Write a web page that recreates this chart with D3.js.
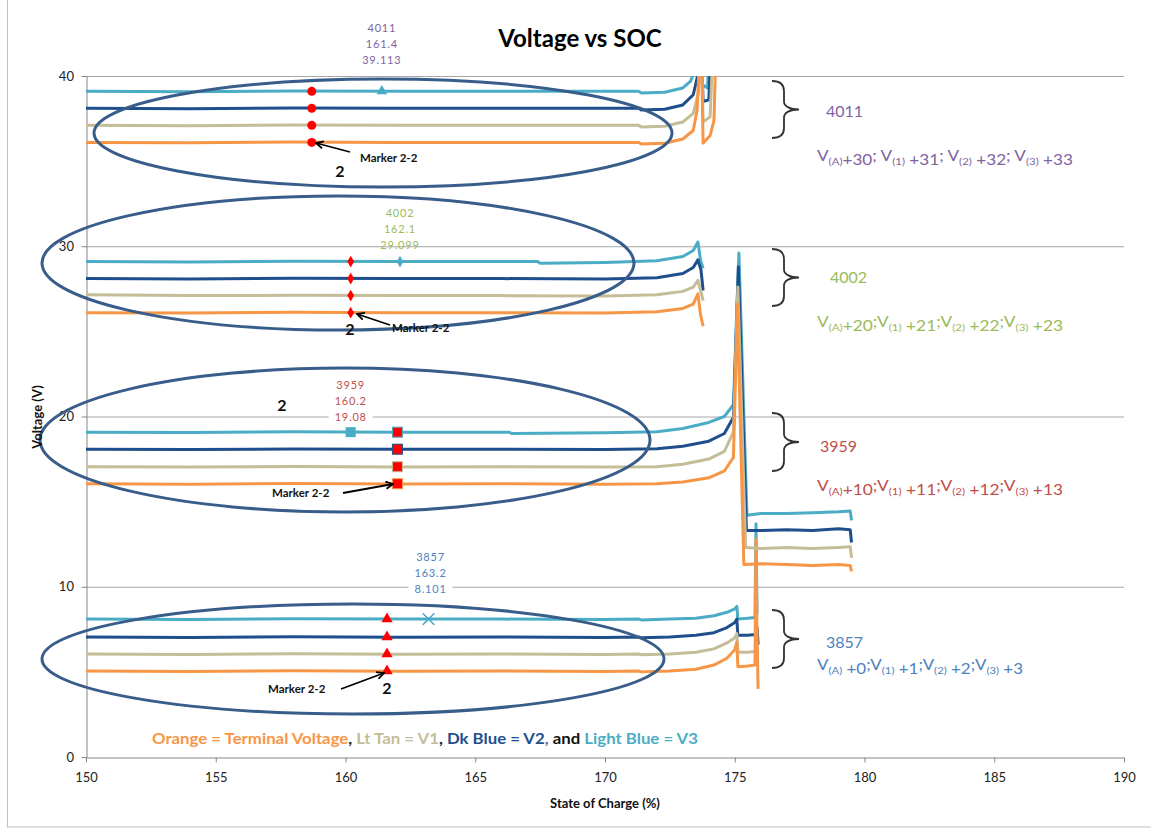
<!DOCTYPE html>
<html><head><meta charset="utf-8">
<script src="https://cdn.jsdelivr.net/npm/d3@7"></script>
<style>
body{margin:0;background:#fff;}
text{font-family:Lato,"Open Sans",sans-serif;}
</style>
</head><body>
<svg id="c" width="1151" height="833"></svg>
<script>
// ---------- axis ticks ----------
const xTicks = [150,155,160,165,170,175,180,185,190];
const yTicks = [0,10,20,30,40];

// ---------- series: [SOC %, Voltage V] ----------
// pack 3857 (offsets +0..+3)
const p3857_VA = [[150,5.05],[154,5.02],[158,5.06],[162,5.03],[166,5.05],[170,5.02],[171.3,5.05],[171.4,5.0],[172.5,5.05],[173.5,5.15],[174.2,5.4],[174.7,5.8],[175.0,6.3],[175.08,6.75],[175.12,5.3],[175.5,5.35],[175.78,5.4],[175.82,12.8],[175.85,8.0],[175.9,4.0]];
const p3857_V1 = [[150,6.05],[154,6.02],[158,6.06],[162,6.03],[166,6.05],[170,6.02],[171.3,6.05],[171.4,6.0],[172.5,6.05],[173.5,6.15],[174.2,6.35],[174.7,6.7],[175.0,7.0],[175.08,7.25],[175.12,6.15],[175.5,6.15],[175.8,6.2],[175.88,6.0]];
const p3857_V2 = [[150,7.05],[154,7.02],[158,7.06],[162,7.03],[166,7.05],[170,7.02],[171.3,7.05],[171.4,7.0],[172.5,7.05],[173.5,7.15],[174.2,7.3],[174.7,7.6],[175.0,7.9],[175.08,8.1],[175.12,7.15],[175.5,7.15],[175.8,7.2],[175.86,7.6],[175.9,6.6]];
const p3857_V3 = [[150,8.1],[154,8.08],[158,8.12],[162,8.1],[166,8.1],[170,8.08],[171.3,8.1],[171.4,8.05],[172.5,8.1],[173.5,8.15],[174.2,8.3],[174.7,8.5],[175.0,8.7],[175.08,8.85],[175.12,8.1],[175.5,8.15],[175.78,8.2],[175.82,13.7],[175.86,8.4]];
// pack 3959 (offsets +10..+13)
const p3959_VA = [[150,16.05],[154,16.02],[158,16.06],[162,16.03],[166,16.05],[170,16.02],[172,16.05],[173,16.15],[174,16.4],[174.6,16.8],[174.95,17.6],[175.1,26.6],[175.35,11.3],[176,11.35],[177,11.3],[178,11.25],[179,11.3],[179.45,11.25],[179.5,10.9]];
const p3959_V1 = [[150,17.05],[154,17.03],[158,17.06],[162,17.04],[166,17.05],[170,17.03],[172,17.05],[173,17.2],[174,17.5],[174.6,17.95],[174.95,19.1],[175.12,27.6],[175.42,12.3],[176,12.25],[177,12.3],[178,12.25],[179,12.3],[179.45,12.35],[179.5,11.7]];
const p3959_V2 = [[150,18.08],[154,18.06],[158,18.09],[162,18.07],[166,18.08],[170,18.06],[172,18.1],[173,18.25],[174,18.55],[174.6,19.0],[174.95,19.95],[175.14,28.8],[175.45,13.3],[176,13.3],[177,13.35],[178,13.3],[179,13.4],[179.45,13.35],[179.5,12.6]];
const p3959_V3 = [[150,19.08],[154,19.06],[158,19.1],[162,19.08],[166.3,19.08],[166.4,19.0],[170,19.05],[172,19.1],[173,19.3],[174,19.65],[174.6,20.0],[174.95,20.7],[175.16,29.6],[175.47,14.2],[176,14.3],[177,14.3],[178,14.35],[179,14.4],[179.45,14.45],[179.5,13.9]];
// pack 4002 (offsets +20..+23)
const p4002_VA = [[150,26.1],[154,26.08],[158,26.12],[162,26.1],[166,26.1],[170,26.08],[172,26.15],[173,26.35],[173.4,26.6],[173.58,27.2],[173.68,26.0],[173.78,25.3]];
const p4002_V1 = [[150,27.15],[154,27.1],[158,27.12],[162,27.1],[166,27.1],[170,27.08],[172,27.15],[173,27.35],[173.4,27.6],[173.58,28.0],[173.7,27.3],[173.78,26.8]];
const p4002_V2 = [[150,28.1],[154,28.08],[158,28.12],[162,28.1],[166,28.1],[170,28.08],[172,28.15],[173,28.4],[173.4,28.75],[173.58,29.2],[173.7,28.6],[173.78,27.4]];
const p4002_V3 = [[150,29.1],[154,29.08],[158,29.12],[162,29.1],[167.4,29.1],[167.5,29.0],[170,29.05],[172,29.15],[173,29.4],[173.4,29.75],[173.58,30.25],[173.68,29.2],[173.78,28.7]];
// pack 4011 (offsets +30..+33)
const p4011_VA = [[150,36.1],[154,36.08],[158,36.12],[162,36.1],[166,36.1],[171.3,36.1],[171.4,36.0],[172.3,36.05],[173,36.3],[173.4,36.8],[173.55,38],[173.7,43],[173.78,36.05],[174.05,36.5],[174.2,37.4],[174.3,43]];
const p4011_V1 = [[150,37.1],[154,37.08],[158,37.12],[162,37.1],[166,37.1],[171.3,37.1],[171.4,37.0],[172.3,37.05],[173,37.3],[173.4,37.8],[173.6,39],[173.7,43],[173.78,37.3],[174.05,37.6],[174.2,43]];
const p4011_V2 = [[150,38.1],[154,38.08],[158,38.12],[162,38.1],[166,38.1],[171.3,38.1],[171.4,38.0],[172.3,38.05],[173,38.3],[173.4,38.9],[173.6,40.2],[173.68,43],[173.78,38.5],[174.0,38.6],[174.12,43]];
const p4011_V3 = [[150,39.1],[154,39.08],[158,39.12],[162,39.1],[166,39.1],[171.3,39.1],[171.4,39.0],[172.3,39.05],[173,39.3],[173.3,39.7],[173.5,40.5],[173.6,43],[173.75,39.5],[173.95,39.3],[174.05,43]];

// ---------- "Marker 2-2" points (red) ----------
const mk4011 = [[158.7,36.1],[158.7,37.1],[158.7,38.1],[158.7,39.1]];
const mk4002 = [[160.2,26.1],[160.2,27.1],[160.2,28.1],[160.2,29.1]];
const mk3959 = [[162.0,16.05],[162.0,17.05],[162.0,18.08],[162.0,19.08]];
const mk3857 = [[161.6,5.05],[161.6,6.05],[161.6,7.05],[161.6,8.1]];
// ---------- labelled data points ----------
const lblPacks = ["4011","4002","3959","3857"];
const lblSoc   = [161.4,162.1,160.2,163.2];
const lblVolt  = [39.113,29.099,19.08,8.101];
const lblSocText  = ["161.4","162.1","160.2","163.2"];
const lblVoltText = ["39.113","29.099","19.08","8.101"];

// ---------- colours ----------
const C = {VA:"#F79646", V1:"#C4BD97", V2:"#1F4E8C", V3:"#4BACC6"};
const packColor = {"4011":"#8064A2","4002":"#9BBB59","3959":"#C0504D","3857":"#4F81BD"};

const svg = d3.select("#c");
const L=86,R=1124,T=76,B=757;
const x = d3.scaleLinear().domain([150,190]).range([L,R]);
const y = d3.scaleLinear().domain([0,40]).range([B,T]);

// frame
svg.append("rect").attr("x",7.5).attr("y",-2).attr("width",1160).attr("height",829).attr("fill","none").attr("stroke","#BFBFBF").attr("stroke-width",1);

// gridlines
svg.append("g").selectAll("line").data(yTicks.filter(d=>d>0)).join("line")
  .attr("x1",L).attr("x2",R).attr("y1",d=>y(d)+0.5).attr("y2",d=>y(d)+0.5)
  .attr("stroke","#A6A6A6").attr("stroke-width",1);

// axes
const gx = svg.append("g").attr("transform",`translate(0,${B+0.5})`)
  .call(d3.axisBottom(x).tickValues(xTicks).tickSize(5).tickSizeOuter(0).tickFormat(d3.format("d")));
const gy = svg.append("g").attr("transform",`translate(${L+0.5},0)`)
  .call(d3.axisLeft(y).tickValues(yTicks).tickSize(5).tickSizeOuter(0).tickFormat(d3.format("d")));
[gx,gy].forEach(g=>{
  g.selectAll("path,line").attr("stroke","#868686");
  g.selectAll("text").attr("fill","#222").attr("font-size",13).attr("font-family","Lato, sans-serif");
});
gx.selectAll("text").attr("dy","1.25em");
gy.selectAll("text").attr("dx","-0.35em");

// clip
svg.append("clipPath").attr("id","pc").append("rect").attr("x",L).attr("y",T).attr("width",R-L).attr("height",B-T);

const line = d3.line().x(d=>x(d[0])).y(d=>y(d[1]));
const gl = svg.append("g").attr("clip-path","url(#pc)");
const series = [
  [p4011_V3,"V3"],[p4011_V2,"V2"],[p4011_V1,"V1"],[p4011_VA,"VA"],
  [p4002_V3,"V3"],[p4002_V2,"V2"],[p4002_V1,"V1"],[p4002_VA,"VA"],
  [p3857_V3,"V3"],[p3857_V2,"V2"],[p3857_V1,"V1"],[p3857_VA,"VA"],
  [p3959_V3,"V3"],[p3959_V2,"V2"],[p3959_V1,"V1"],[p3959_VA,"VA"]
];
series.forEach(([d,k])=>{
  gl.append("path").attr("d",line(d)).attr("fill","none").attr("stroke",C[k])
    .attr("stroke-width",3).attr("stroke-linejoin","round");
});

// ellipses (annotation)
const ell = [[383,133,289,54],[338,263,296,67],[345,440,305,72],[353,659,311,55]];
svg.append("g").selectAll("ellipse").data(ell).join("ellipse")
  .attr("cx",d=>d[0]).attr("cy",d=>d[1]).attr("rx",d=>d[2]).attr("ry",d=>d[3])
  .attr("fill","none").attr("stroke","#385D8A").attr("stroke-width",3);

// markers
const gm = svg.append("g");
const mcol = ["#F79646","#C4BD97","#1F4E8C","#4BACC6"];
mk4011.forEach(d=>gm.append("circle").attr("cx",x(d[0])).attr("cy",y(d[1])).attr("r",4.5).attr("fill","#FF0000"));
mk4002.forEach(d=>gm.append("path").attr("transform",`translate(${x(d[0])},${y(d[1])})`).attr("d",d3.symbol(d3.symbolDiamond,40)()).attr("fill","#FF0000"));
mk3959.forEach((d,i)=>gm.append("rect").attr("x",x(d[0])-5).attr("y",y(d[1])-5).attr("width",10).attr("height",10).attr("fill","#FF0000").attr("stroke",mcol[i]).attr("stroke-width",1));
mk3857.forEach(d=>gm.append("path").attr("transform",`translate(${x(d[0])},${y(d[1])})`).attr("d",d3.symbol(d3.symbolTriangle,55)()).attr("fill","#FF0000"));
// light-blue labelled points
gm.append("path").attr("transform",`translate(${x(lblSoc[0])},${y(lblVolt[0])})`).attr("d",d3.symbol(d3.symbolTriangle,50)()).attr("fill","#4BACC6");
gm.append("path").attr("transform",`translate(${x(lblSoc[1])},${y(lblVolt[1])})`).attr("d",d3.symbol(d3.symbolDiamond,40)()).attr("fill","#4BACC6");
gm.append("rect").attr("x",x(lblSoc[2])-5).attr("y",y(lblVolt[2])-5).attr("width",10).attr("height",10).attr("fill","#4BACC6");
gm.append("path").attr("transform",`translate(${x(lblSoc[3])},${y(lblVolt[3])})`).attr("d",d3.symbol(d3.symbolX,90)()).attr("fill","none").attr("stroke","#4BACC6").attr("stroke-width",1.5);

// data labels
const lblBase = [32,217,389,561];
lblPacks.forEach((p,i)=>{
  const cx = x(lblSoc[i]) + (i===3?2:0);
  const lines = [p,lblSocText[i],lblVoltText[i]];
  lines.forEach((t,j)=>{
    const yy = lblBase[i]+j*16;
    if (j===2 && (i===2||i===3)) {
      svg.append("rect").attr("x",cx-22).attr("y",yy-11).attr("width",44).attr("height",14).attr("fill","#fff");
    }
    svg.append("text").attr("x",cx).attr("y",yy).attr("text-anchor","middle")
      .attr("font-size",11).attr("letter-spacing","0.8").attr("fill",packColor[p]).text(t);
  });
});

// "2" labels
const twos = [[340,177],[350,335],[282,411],[387,694]];
twos.forEach(d=>svg.append("text").attr("x",d[0]).attr("y",d[1]).attr("text-anchor","middle")
  .attr("font-size",16).attr("font-weight","bold").attr("fill","#111").text("2"));

// Marker 2-2 labels + arrows
svg.append("defs").append("marker").attr("id","ah").attr("viewBox","0 0 10 10").attr("refX",9).attr("refY",5)
  .attr("markerWidth",5).attr("markerHeight",5).attr("orient","auto")
  .append("path").attr("d","M1,1 L9,5 L1,9").attr("fill","none").attr("stroke","#000").attr("stroke-width",2);
const m22 = [
  {t:[360,162], a:[[350,152],[316,143]]},
  {t:[392,332], a:[[390,325],[357,314]]},
  {t:[272,497], a:[[343,493],[393,484]]},
  {t:[268,693], a:[[341,689],[384,673]]}
];
m22.forEach(m=>{
  svg.append("text").attr("x",m.t[0]).attr("y",m.t[1]).attr("font-size",11.5).attr("font-weight","bold").attr("fill","#111").text("Marker 2-2");
  svg.append("line").attr("x1",m.a[0][0]).attr("y1",m.a[0][1]).attr("x2",m.a[1][0]).attr("y2",m.a[1][1])
    .attr("stroke","#000").attr("stroke-width",1.8).attr("marker-end","url(#ah)");
});

// braces
function brace(x0,y0,y1){
  const ym=(y0+y1)/2, xs=x0+12, xt=x0+27;
  return `M${x0},${y0} C${x0+8},${y0} ${xs},${y0+3} ${xs},${y0+10} L${xs},${ym-8} C${xs},${ym-3} ${xs+6},${ym} ${xt},${ym} C${xs+6},${ym} ${xs},${ym+3} ${xs},${ym+8} L${xs},${y1-10} C${xs},${y1-3} ${x0+8},${y1} ${x0},${y1}`;
}
[[772,81,138],[772,249,306],[772,413,471],[772,610,668]].forEach(b=>{
  svg.append("path").attr("d",brace(b[0],b[1],b[2])).attr("fill","none").attr("stroke","#333").attr("stroke-width",1.8);
});

// pack labels at right
const packLbl = [["4011",826,117],["4002",830,283],["3959",820,452],["3857",826,648]];
packLbl.forEach(d=>svg.append("text").attr("x",d[1]).attr("y",d[2]).attr("font-size",16).attr("fill",packColor[d[0]]).text(d[0]));

function offsetText(x0,y0,p,parts,sep,tl){
  const t = svg.append("text").attr("x",x0).attr("y",y0).attr("font-size",15).attr("fill",packColor[p]);
  parts.forEach((pt,i)=>{
    t.append("tspan").attr("dy",i===0?0:-4).text((i===0?"":sep[i-1])+"V");
    t.append("tspan").attr("font-size",10).attr("dy",4).text(pt[0]);
    t.append("tspan").text(pt[1]);
  });
  if (tl) t.attr("textLength",tl).attr("lengthAdjust","spacingAndGlyphs");
}
offsetText(817,161,"4011",[["(A)","+30"],["(1)"," +31"],["(2)"," +32"],["(3)"," +33"]],["; ","; ","; "],256);
offsetText(817,327,"4002",[["(A)","+20"],["(1)"," +21"],["(2)"," +22"],["(3)"," +23"]],[";",";",";"],246);
offsetText(817,491,"3959",[["(A)","+10"],["(1)"," +11"],["(2)"," +12"],["(3)"," +13"]],[";",";",";"],246);
offsetText(817,670,"3857",[["(A)"," +0"],["(1)"," +1"],["(2)"," +2"],["(3)"," +3"]],[";",";",";"],206);

// legend-like text
const lg = svg.append("text").attr("x",152).attr("y",744).attr("font-size",15).attr("font-weight","bold")
  .attr("textLength",546).attr("lengthAdjust","spacingAndGlyphs");
[["Orange = Terminal Voltage","#F79646"],[", ","#222"],["Lt Tan = V1","#C4BD97"],[", ","#222"],
 ["Dk Blue = V2","#1F4E8C"],[",","#8064A2"],[" and ","#111"],["Light Blue = V3","#4BACC6"]]
 .forEach(s=>lg.append("tspan").attr("fill",s[1]).text(s[0]));

// titles
svg.append("text").attr("x",580).attr("y",47).attr("text-anchor","middle").attr("font-size",24)
  .attr("font-weight","bold").attr("fill","#000").text("Voltage vs SOC");
svg.append("text").attr("x",605).attr("y",808).attr("text-anchor","middle").attr("font-size",13)
  .attr("font-weight","bold").attr("fill","#111").text("State of Charge (%)");
svg.append("text").attr("transform","translate(42,417) rotate(-90)").attr("text-anchor","middle").attr("font-size",13)
  .attr("font-weight","bold").attr("fill","#111").text("Voltage (V)");
</script>
</body></html>
